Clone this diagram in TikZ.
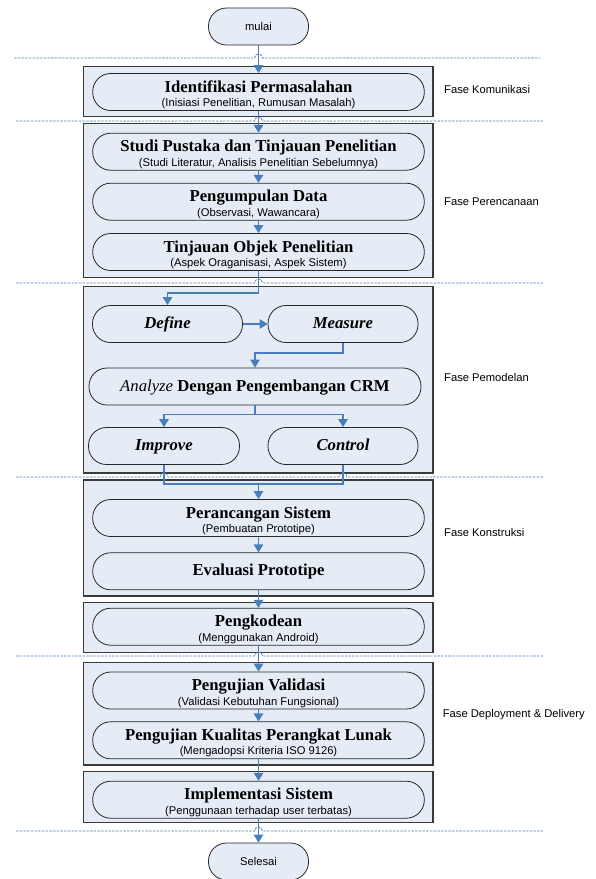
\documentclass[tikz,border=0pt]{standalone}
\usepackage{fontspec}
\setmainfont{Liberation Serif}
\newfontfamily\arialfont{Liberation Sans}
\usetikzlibrary{arrows.meta}

\definecolor{flowblue}{HTML}{4A7EBB}
\definecolor{panelfill}{HTML}{E6ECF6}
\definecolor{panelline}{HTML}{3A3A3A}

\newcommand\titlefont{\fontsize{16.7}{18}\selectfont\bfseries}
\newcommand\smallsans{\arialfont\fontsize{11.2}{13}\selectfont}

\tikzset{
  panel/.style={draw=panelline, line width=1.2pt, fill=panelfill},
  stadium/.style={draw=black!85, line width=0.8pt, fill=panelfill,
    rounded corners=18pt, minimum height=37pt, inner sep=0pt},
  oneline/.style={stadium, text height=11pt, text depth=2pt},
  ttl/.style={font=\titlefont, anchor=base, inner sep=0pt},
  sub/.style={font=\smallsans, anchor=base, inner sep=0pt},
  phase/.style={font=\smallsans, anchor=west, inner sep=0pt},
  flow/.style={draw=flowblue, line width=1.5pt},
  arr/.style={flow, -{Triangle[length=8pt,width=9.5pt]}},
  sep/.style={draw=flowblue, line width=0.8pt, dash pattern=on 2.5pt off 1.2pt},
}

% two-line stage: name, cx, cy, width, title, subtitle
\newcommand\stagetwo[6]{%
  \node[stadium, minimum width=#4pt] (#1) at (#2,#3) {};
  \node[ttl] (#1-t) at ([yshift=0pt]#1.center) {#5};
  \node[sub] (#1-s) at ([yshift=-14.5pt]#1.center) {#6};
}

\begin{document}
\begin{tikzpicture}[x=1pt,y=1pt]
\useasboundingbox (0,0) rectangle (595,-879);

% phase panels
\path[panel] (83.5,-66.5)  rectangle (433,-116.5);
\path[panel] (83.5,-123.5) rectangle (433,-277.7);
\path[panel] (83.5,-286.5) rectangle (433,-473);
\path[panel] (83.5,-480)   rectangle (433,-596);
\path[panel] (83.5,-602.5) rectangle (433,-652.5);
\path[panel] (83.5,-662.3) rectangle (433,-765);
\path[panel] (83.5,-771.7) rectangle (433,-822.3);

% phase separators (with hops over the flow lines)
\draw[sep] (14,-58) -- (254.5,-58) arc[start angle=180,end angle=0,radius=4] -- (540,-58);
\draw[sep] (16,-121) -- (254.5,-121) arc[start angle=180,end angle=0,radius=4] -- (543,-121);
\draw[sep] (16,-283) -- (254.5,-283) arc[start angle=180,end angle=0,radius=4] -- (543,-283);
\draw[sep] (16,-477) -- (160,-477) arc[start angle=180,end angle=0,radius=4]
  -- (339,-477) arc[start angle=180,end angle=0,radius=4] -- (543,-477);
\draw[sep] (16,-656) -- (254.5,-656) arc[start angle=180,end angle=0,radius=4] -- (543,-656);
\draw[sep] (16,-831) -- (254.5,-831) arc[start angle=180,end angle=0,radius=4] -- (543,-831);

% stages
\node[stadium, minimum width=100pt, font=\smallsans] (mulai) at (258.5,-26.5) {mulai};
\stagetwo{ident}{258.5}{-92}{331.6}{Identifikasi Permasalahan}{(Inisiasi Penelitian, Rumusan Masalah)}
\stagetwo{studi}{258.5}{-151.7}{331.6}{Studi Pustaka dan Tinjauan Penelitian}{(Studi Literatur, Analisis Penelitian Sebelumnya)}
\stagetwo{kumpul}{258.5}{-201.7}{331.6}{Pengumpulan Data}{(Observasi, Wawancara)}
\stagetwo{objek}{258.5}{-252}{331.6}{Tinjauan Objek Penelitian}{(Aspek Oraganisasi, Aspek Sistem)}

\node[oneline, minimum width=150pt, font=\titlefont\itshape] (define) at (167.5,-324) {Define};
\node[oneline, minimum width=150pt, font=\titlefont\itshape] (measure) at (343,-324) {Measure};
\node[oneline, minimum width=332pt, font=\titlefont]
  (analyze) at (255,-386.5) {\textit{\mdseries Analyze} Dengan Pengembangan CRM};
\node[oneline, minimum width=151pt, font=\titlefont\itshape] (improve) at (164,-446) {Improve};
\node[oneline, minimum width=150pt, font=\titlefont\itshape] (control) at (343,-446) {Control};

\stagetwo{rancang}{258.5}{-518}{331.6}{Perancangan Sistem}{(Pembuatan Prototipe)}
\node[oneline, minimum width=331.6pt, font=\titlefont] (evaluasi) at (258.5,-571.3) {Evaluasi Prototipe};
\stagetwo{kode}{258.5}{-626.7}{331.6}{Pengkodean}{(Menggunakan Android)}
\stagetwo{validasi}{258.5}{-690.5}{331.6}{Pengujian Validasi}{(Validasi Kebutuhan Fungsional)}
\stagetwo{kualitas}{258.5}{-740.3}{331.6}{Pengujian Kualitas Perangkat Lunak}{(Mengadopsi Kriteria ISO 9126)}
\stagetwo{implementasi}{258.5}{-799.7}{331.6}{Implementasi Sistem}{(Penggunaan terhadap user terbatas)}
\node[stadium, minimum width=100pt, font=\smallsans] (selesai) at (258.5,-861.5) {Selesai};

% flow
\draw[arr] (mulai) -- (ident);
\draw[arr] (ident) -- (studi);
\draw[arr] (studi) -- (kumpul);
\draw[arr] (kumpul) -- (objek);
\draw[arr] (objek.south) -- ++(0,-22) -| (define.north);
\draw[arr] (define) -- (measure);
\draw[arr] (measure.south) -- ++(0,-10) -| (analyze.north);
\path (analyze.south) ++(0,-9) coordinate (split);
\draw[flow] (analyze.south) -- (split);
\draw[arr] (split) -| (improve.north);
\draw[arr] (split) -| (control.north);
\coordinate (merge) at (258.5,-484);
\draw[flow] (improve.south) |- (merge) -| (control.south);
\draw[arr] (merge) -- (rancang.north);
\draw[arr] (rancang) -- (evaluasi);
\draw[arr] (evaluasi) -- (kode);
\draw[arr] (kode) -- (validasi);
\draw[arr] (validasi) -- (kualitas);
\draw[arr] (kualitas) -- (implementasi);
\draw[arr] (implementasi) -- (selesai);

% phase labels
\node[phase] (ph1) at (444,-89.3) {Fase Komunikasi};
\node[phase] (ph2) at (444,-201.7) {Fase Perencanaan};
\node[phase] (ph3) at (444,-377.3) {Fase Pemodelan};
\node[phase] (ph4) at (444,-532.7) {Fase Konstruksi};
\node[phase] (ph5) at (442.7,-715) {Fase Deployment \& Delivery};
\end{tikzpicture}
\end{document}
